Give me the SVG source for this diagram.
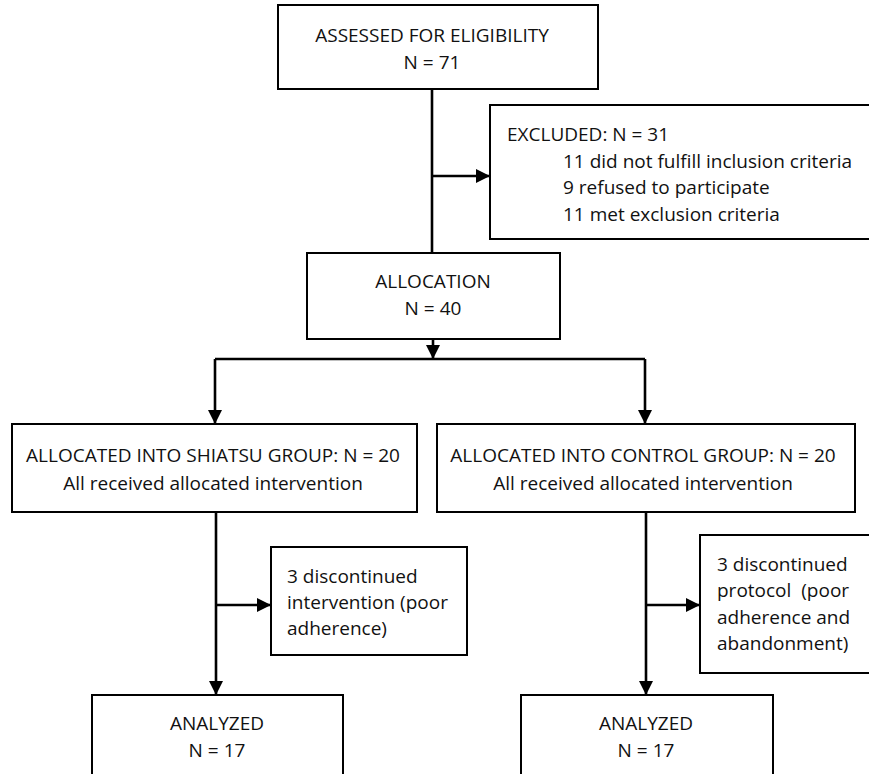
<svg xmlns="http://www.w3.org/2000/svg" width="869" height="774" viewBox="0 0 869 774">
<style>
  .box { fill: #ffffff; stroke: #000000; stroke-width: 2; }
  .line { fill: none; stroke: #000000; stroke-width: 2.6; }
  text { font-family: "Open Sans", "Liberation Sans", sans-serif; font-size: 19px; fill: #111111; }
  .c { text-anchor: middle; }
</style>
<defs>
  <marker id="arrow" markerUnits="userSpaceOnUse" markerWidth="14" markerHeight="14" viewBox="0 0 14 14" refX="14" refY="7" orient="auto">
    <path d="M0,0 L14,7 L0,14 Z" fill="#000000"/>
  </marker>
</defs>
<rect width="869" height="774" fill="#ffffff"/>
<g id="connectors">
  <path class="line" d="M432,89 V253"/>
  <path class="line" d="M432,176 H490" marker-end="url(#arrow)"/>
  <path class="line" d="M433,339 V359" marker-end="url(#arrow)"/>
  <path class="line" d="M215,359 H645"/>
  <path class="line" d="M215,359 V424" marker-end="url(#arrow)"/>
  <path class="line" d="M645,359 V424" marker-end="url(#arrow)"/>
  <path class="line" d="M216,512 V695" marker-end="url(#arrow)"/>
  <path class="line" d="M216,605 H271" marker-end="url(#arrow)"/>
  <path class="line" d="M646,512 V695" marker-end="url(#arrow)"/>
  <path class="line" d="M646,605 H700" marker-end="url(#arrow)"/>
</g>
<g id="assessed">
  <rect class="box" x="278" y="5" width="320" height="84"/>
  <text class="c" x="432" y="42">ASSESSED FOR ELIGIBILITY</text>
  <text class="c" x="432" y="69">N = 71</text>
</g>
<g id="excluded">
  <rect class="box" x="490" y="105" width="400" height="134"/>
  <text x="507" y="141">EXCLUDED: N = 31</text>
  <text x="563" y="168">11 did not fulfill inclusion criteria</text>
  <text x="563" y="194">9 refused to participate</text>
  <text x="563" y="221">11 met exclusion criteria</text>
</g>
<g id="allocation">
  <rect class="box" x="307" y="253" width="253" height="86"/>
  <text class="c" x="433" y="288">ALLOCATION</text>
  <text class="c" x="433" y="315">N = 40</text>
</g>
<g id="shiatsu">
  <rect class="box" x="12" y="424" width="405" height="88"/>
  <text class="c" x="213" y="462">ALLOCATED INTO SHIATSU GROUP: N = 20</text>
  <text class="c" x="213" y="490">All received allocated intervention</text>
</g>
<g id="control">
  <rect class="box" x="437" y="424" width="418" height="88"/>
  <text class="c" x="643" y="462">ALLOCATED INTO CONTROL GROUP: N = 20</text>
  <text class="c" x="643" y="490">All received allocated intervention</text>
</g>
<g id="disc-shiatsu">
  <rect class="box" x="271" y="547" width="196" height="108"/>
  <text x="287" y="583">3 discontinued</text>
  <text x="287" y="609">intervention (poor</text>
  <text x="287" y="635">adherence)</text>
</g>
<g id="disc-control">
  <rect class="box" x="700" y="535" width="200" height="138"/>
  <text x="717" y="571">3 discontinued</text>
  <text x="717" y="597" xml:space="preserve">protocol  (poor</text>
  <text x="717" y="624">adherence and</text>
  <text x="717" y="650">abandonment)</text>
</g>
<g id="analyzed-shiatsu">
  <rect class="box" x="92" y="695" width="251" height="110"/>
  <text class="c" x="217" y="730">ANALYZED</text>
  <text class="c" x="217" y="757">N = 17</text>
</g>
<g id="analyzed-control">
  <rect class="box" x="521" y="695" width="252" height="110"/>
  <text class="c" x="646" y="730">ANALYZED</text>
  <text class="c" x="646" y="757">N = 17</text>
</g>
</svg>
